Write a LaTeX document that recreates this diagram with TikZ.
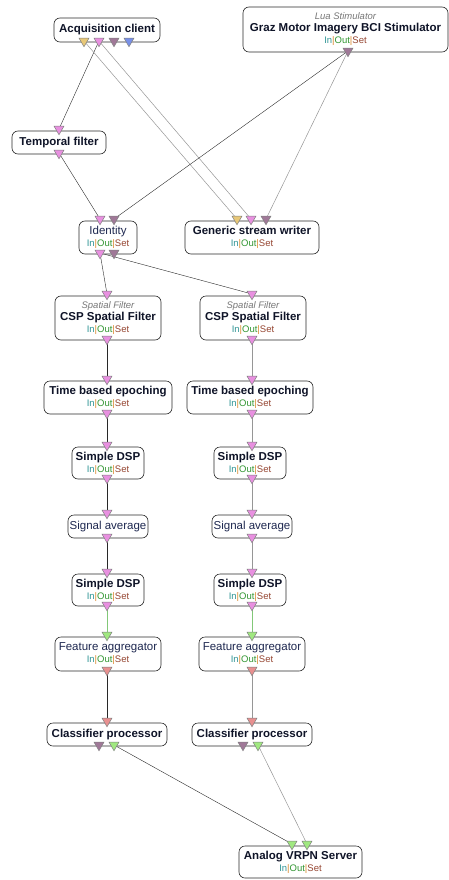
\documentclass[tikz,border=0pt]{standalone}
\usepackage{fontspec}
\setmainfont{Liberation Sans}
\usetikzlibrary{shapes.geometric}
\definecolor{pinkC}{RGB}{232,144,224}
\definecolor{tanC}{RGB}{232,200,120}
\definecolor{mauveC}{RGB}{160,120,152}
\definecolor{blueC}{RGB}{120,144,232}
\definecolor{greenC}{RGB}{160,232,128}
\definecolor{salmonC}{RGB}{232,144,144}
\definecolor{portB}{RGB}{128,128,128}
\definecolor{boxC}{RGB}{40,40,40}
\definecolor{titleC}{RGB}{15,20,40}
\definecolor{regC}{RGB}{30,40,80}
\definecolor{subC}{RGB}{120,120,120}
\definecolor{inC}{RGB}{50,150,150}
\definecolor{sepC}{RGB}{220,140,50}
\definecolor{outC}{RGB}{50,150,50}
\definecolor{setC}{RGB}{150,70,50}
\definecolor{darkL}{RGB}{40,40,40}
\definecolor{grayL}{RGB}{150,150,150}
\definecolor{greenL}{RGB}{130,200,120}
\pgfdeclarelayer{bg}
\pgfsetlayers{bg,main}
\newcommand{\bxsub}[1]{{\fontsize{9.5}{12}\selectfont\itshape\color{subC}#1}}
\newcommand{\bxports}{{\fontsize{9.5}{12}\selectfont\color{inC}In\color{sepC}|\color{outC}Out\color{sepC}|\color{setC}Set}}
\newcommand{\bxreg}[1]{{\color{regC}#1}}
\tikzset{
  box/.style={draw=boxC, line width=0.6pt, rounded corners=6pt, fill=white,
    inner sep=0pt, align=center, node font=\fontsize{11.5}{12}\selectfont, text=titleC},
  port/.style={regular polygon, regular polygon sides=3, shape border rotate=180,
    minimum size=11.5pt, inner sep=0pt, draw=portB, line width=0.5pt, fill=#1},
  dk/.style={draw=darkL, line width=0.4pt},
  gy/.style={draw=grayL, line width=0.5pt},
  gn/.style={draw=greenL, line width=0.6pt}
}
\begin{document}
\begin{tikzpicture}[x=1pt,y=-1pt]
\useasboundingbox (0,0) rectangle (449,880);
% boxes
\node[box, minimum width=106pt, minimum height=24pt] (acq) at (107,30) {\bfseries Acquisition client};
\node[box, minimum width=205pt, minimum height=45pt] (graz) at (345.5,29.5) {\bxsub{Lua Stimulator}\\\bfseries Graz Motor Imagery BCI Stimulator\\\bxports};
\node[box, minimum width=94pt, minimum height=23pt] (tf) at (59,142.5) {\bfseries Temporal filter};
\node[box, minimum width=58pt, minimum height=33pt] (id) at (108,237.5) {\bxreg{Identity}\\\bxports};
\node[box, minimum width=134pt, minimum height=33pt] (gsw) at (252,237.5) {\bfseries Generic stream writer\\\bxports};
% left column
\node[box, minimum width=106pt, minimum height=44pt] (cspL) at (108,318) {\bxsub{Spatial Filter}\\\bfseries CSP Spatial Filter\\\bxports};
\node[box, minimum width=128pt, minimum height=33pt] (tbeL) at (108,397.5) {\bfseries Time based epoching\\\bxports};
\node[box, minimum width=72pt, minimum height=32pt] (dspaL) at (108,463) {\bfseries Simple DSP\\\bxports};
\node[box, minimum width=80pt, minimum height=23pt] (saL) at (108,526.5) {\bxreg{Signal average}};
\node[box, minimum width=72pt, minimum height=32pt] (dspbL) at (108,590) {\bfseries Simple DSP\\\bxports};
\node[box, minimum width=106pt, minimum height=34pt] (faL) at (108,654) {\bxreg{Feature aggregator}\\\bxports};
\node[box, minimum width=120pt, minimum height=23pt] (cpL) at (107,734.5) {\bfseries Classifier processor};
% right column
\node[box, minimum width=106pt, minimum height=44pt] (cspR) at (253,318) {\bxsub{Spatial Filter}\\\bfseries CSP Spatial Filter\\\bxports};
\node[box, minimum width=126pt, minimum height=33pt] (tbeR) at (250,397.5) {\bfseries Time based epoching\\\bxports};
\node[box, minimum width=72pt, minimum height=32pt] (dspaR) at (250,463) {\bfseries Simple DSP\\\bxports};
\node[box, minimum width=80pt, minimum height=23pt] (saR) at (252,526.5) {\bxreg{Signal average}};
\node[box, minimum width=72pt, minimum height=32pt] (dspbR) at (250,590) {\bfseries Simple DSP\\\bxports};
\node[box, minimum width=106pt, minimum height=34pt] (faR) at (252,654) {\bxreg{Feature aggregator}\\\bxports};
\node[box, minimum width=120pt, minimum height=23pt] (cpR) at (252,734.5) {\bfseries Classifier processor};
\node[box, minimum width=123pt, minimum height=32pt] (vrpn) at (300.5,862) {\bfseries Analog VRPN Server\\\bxports};
% ports
\node[port=tanC] (acqo1) at (84,41) {};
\node[port=pinkC] (acqo2) at (99,41) {};
\node[port=mauveC] (acqo3) at (114,41) {};
\node[port=blueC] (acqo4) at (129,41) {};
\node[port=mauveC] (grazo) at (348,51) {};
\node[port=pinkC] (tfi) at (59,129) {};
\node[port=pinkC] (tfo) at (59,153) {};
\node[port=pinkC] (idi1) at (100,219) {};
\node[port=mauveC] (idi2) at (114,219) {};
\node[port=pinkC] (ido1) at (100,253) {};
\node[port=mauveC] (ido2) at (114,253) {};
\node[port=tanC] (gswi1) at (237,219) {};
\node[port=pinkC] (gswi2) at (251,219) {};
\node[port=mauveC] (gswi3) at (266,219) {};
% left column ports
\node[port=pinkC] (cspLi) at (107,294) {};
\node[port=pinkC] (cspLo) at (107,339) {};
\node[port=pinkC] (tbeLi) at (107,379) {};
\node[port=pinkC] (tbeLo) at (107,413) {};
\node[port=pinkC] (dspaLi) at (107,445) {};
\node[port=pinkC] (dspaLo) at (107,478) {};
\node[port=pinkC] (saLi) at (107,513) {};
\node[port=pinkC] (saLo) at (107,537) {};
\node[port=pinkC] (dspbLi) at (107,572) {};
\node[port=pinkC] (dspbLo) at (107,605) {};
\node[port=greenC] (faLi) at (107,635) {};
\node[port=salmonC] (faLo) at (107,670) {};
\node[port=salmonC] (cpLi) at (107,721) {};
\node[port=mauveC] (cpLo1) at (99,745) {};
\node[port=greenC] (cpLo2) at (114,745) {};
% right column ports
\node[port=pinkC] (cspRi) at (252,294) {};
\node[port=pinkC] (cspRo) at (252,339) {};
\node[port=pinkC] (tbeRi) at (252,379) {};
\node[port=pinkC] (tbeRo) at (252,413) {};
\node[port=pinkC] (dspaRi) at (252,445) {};
\node[port=pinkC] (dspaRo) at (252,478) {};
\node[port=pinkC] (saRi) at (252,513) {};
\node[port=pinkC] (saRo) at (252,537) {};
\node[port=pinkC] (dspbRi) at (252,572) {};
\node[port=pinkC] (dspbRo) at (252,605) {};
\node[port=greenC] (faRi) at (252,635) {};
\node[port=salmonC] (faRo) at (252,670) {};
\node[port=salmonC] (cpRi) at (252,721) {};
\node[port=mauveC] (cpRo1) at (243,745) {};
\node[port=greenC] (cpRo2) at (258,745) {};
\node[port=greenC] (vrpni1) at (292,844) {};
\node[port=greenC] (vrpni2) at (307,844) {};
% connectors
\begin{pgfonlayer}{bg}
\draw[dk] (acqo2.center) -- (tfi.center);
\draw[gy] (acqo1.center) -- (gswi1.center);
\draw[gy] (acqo2.center) -- (gswi2.center);
\draw[dk] (tfo.center) -- (idi1.center);
\draw[dk] (grazo.center) -- (idi2.center);
\draw[gy] (grazo.center) -- (gswi3.center);
\draw[dk] (ido1.center) -- (cspLi.center);
\draw[dk] (ido1.center) -- (cspRi.center);
\draw[dk] (cspLo.center) -- (tbeLi.center);
\draw[dk] (tbeLo.center) -- (dspaLi.center);
\draw[dk] (dspaLo.center) -- (saLi.center);
\draw[dk] (saLo.center) -- (dspbLi.center);
\draw[gn] (dspbLo.center) -- (faLi.center);
\draw[dk] (faLo.center) -- (cpLi.center);
\draw[gy] (cspRo.center) -- (tbeRi.center);
\draw[gy] (tbeRo.center) -- (dspaRi.center);
\draw[gy] (dspaRo.center) -- (saRi.center);
\draw[gy] (saRo.center) -- (dspbRi.center);
\draw[gn] (dspbRo.center) -- (faRi.center);
\draw[gy] (faRo.center) -- (cpRi.center);
\draw[dk] (cpLo2.center) -- (vrpni1.center);
\draw[gy] (cpRo2.center) -- (vrpni2.center);
\end{pgfonlayer}
\end{tikzpicture}
\end{document}
